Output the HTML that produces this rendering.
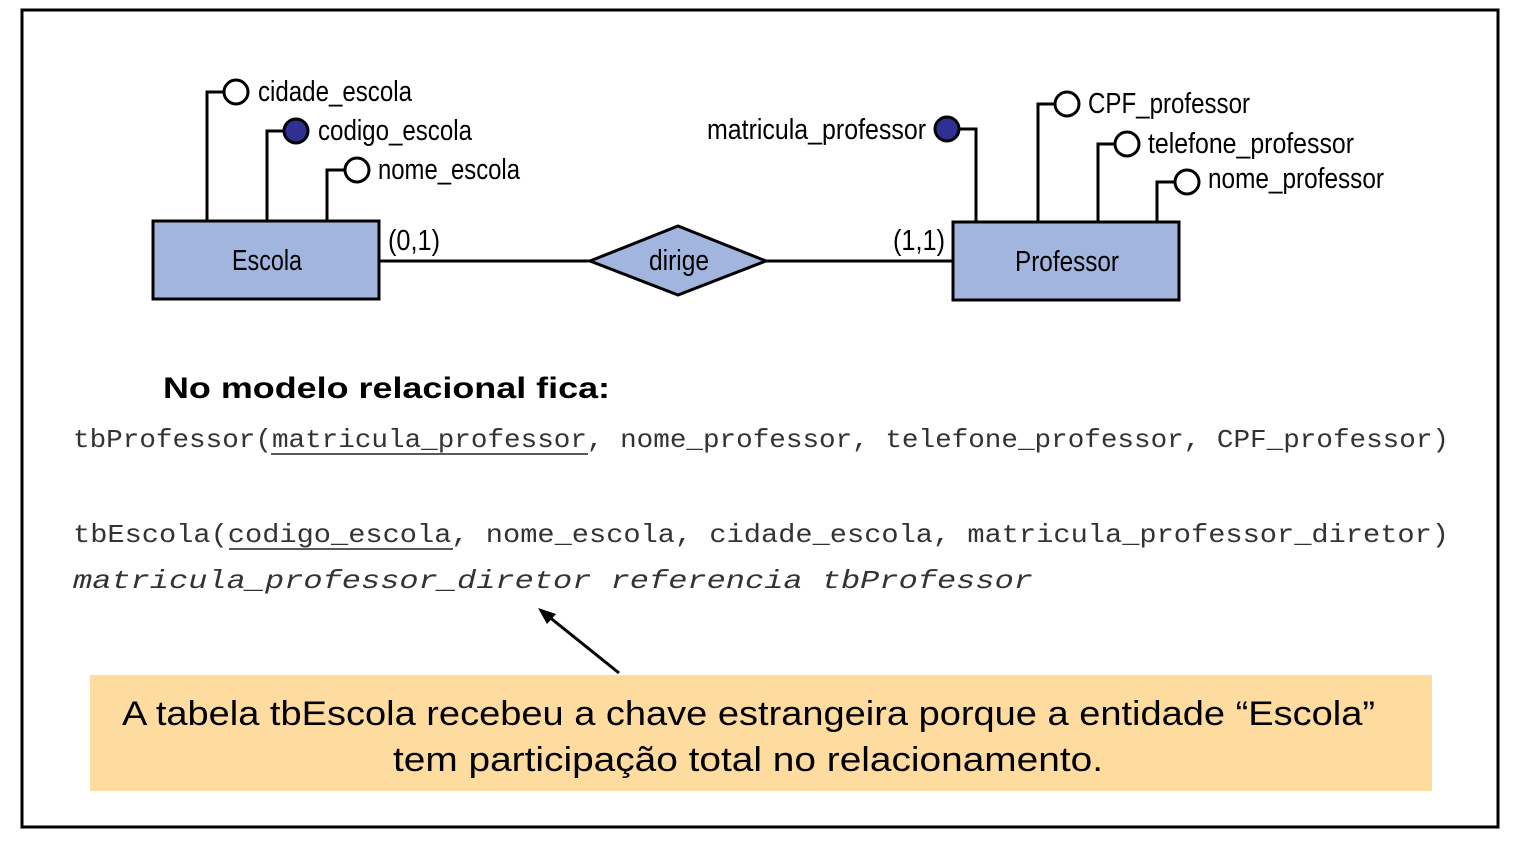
<!DOCTYPE html>
<html><head><meta charset="utf-8"><style>html,body{margin:0;padding:0;background:#fff;}svg{display:block}</style></head>
<body>
<svg width="1515" height="844" viewBox="0 0 1515 844" xmlns="http://www.w3.org/2000/svg">
<rect x="0" y="0" width="1515" height="844" fill="#fff"/>
<rect x="22" y="10" width="1476" height="817" fill="none" stroke="#000" stroke-width="3"/>
<g stroke="#000" stroke-width="3" fill="none">
<polyline points="207,221 207,92 224,92"/>
<polyline points="267,221 267,131 284,131"/>
<polyline points="327,221 327,170 345,170"/>
<polyline points="959,129 976,129 976,222"/>
<polyline points="1038,222 1038,104 1055,104"/>
<polyline points="1098,222 1098,144 1115,144"/>
<polyline points="1157,222 1157,182 1175,182"/>
<line x1="379" y1="261" x2="590" y2="261"/>
<line x1="766" y1="261" x2="953" y2="261"/>
</g>
<g stroke="#000" stroke-width="3">
<circle cx="236" cy="92" r="12" fill="#fff"/>
<circle cx="296" cy="131" r="12" fill="#2e3192"/>
<circle cx="357" cy="170" r="12" fill="#fff"/>
<circle cx="947" cy="129" r="12" fill="#2e3192"/>
<circle cx="1067" cy="104" r="12" fill="#fff"/>
<circle cx="1127" cy="144" r="12" fill="#fff"/>
<circle cx="1187" cy="182" r="12" fill="#fff"/>
<rect x="153" y="221" width="226" height="78" fill="#a2b5de"/>
<rect x="953" y="222" width="226" height="78" fill="#a2b5de"/>
<polygon points="590,261 678,226 766,261 678,295" fill="#a2b5de"/>
</g>
<g font-family="'Liberation Sans Narrow','Liberation Sans',sans-serif" font-size="29" fill="#000">
<text x="258" y="101" textLength="154" lengthAdjust="spacingAndGlyphs">cidade_escola</text>
<text x="318" y="140" textLength="154" lengthAdjust="spacingAndGlyphs">codigo_escola</text>
<text x="378" y="179" textLength="142" lengthAdjust="spacingAndGlyphs">nome_escola</text>
<text x="707" y="139" textLength="219" lengthAdjust="spacingAndGlyphs">matricula_professor</text>
<text x="1088" y="113" textLength="162" lengthAdjust="spacingAndGlyphs">CPF_professor</text>
<text x="1148" y="153" textLength="206" lengthAdjust="spacingAndGlyphs">telefone_professor</text>
<text x="1208" y="188" textLength="176" lengthAdjust="spacingAndGlyphs">nome_professor</text>
<text x="232" y="270" textLength="70" lengthAdjust="spacingAndGlyphs">Escola</text>
<text x="1015" y="271" textLength="104" lengthAdjust="spacingAndGlyphs">Professor</text>
<text x="649" y="270" textLength="60" lengthAdjust="spacingAndGlyphs">dirige</text>
<text x="388" y="250" textLength="52" lengthAdjust="spacingAndGlyphs">(0,1)</text>
<text x="893" y="250" textLength="52" lengthAdjust="spacingAndGlyphs">(1,1)</text>
</g>
<text x="163" y="398" font-family="'Liberation Sans',sans-serif" font-weight="bold" font-size="30" textLength="447" lengthAdjust="spacingAndGlyphs">No modelo relacional  fica:</text>
<g font-family="'Liberation Mono',monospace" font-size="26" fill="#333">
<text x="73" y="447" textLength="1376" lengthAdjust="spacingAndGlyphs">tbProfessor(matricula_professor, nome_professor, telefone_professor, CPF_professor)</text>
<text x="73" y="542" textLength="1376" lengthAdjust="spacingAndGlyphs">tbEscola(codigo_escola, nome_escola, cidade_escola, matricula_professor_diretor)</text>
<text x="73" y="588" font-style="italic" textLength="960" lengthAdjust="spacingAndGlyphs">matricula_professor_diretor referencia tbProfessor</text>
</g>
<g stroke="#222" stroke-width="1.5">
<line x1="271" y1="454" x2="588" y2="454"/>
<line x1="229" y1="549" x2="453" y2="549"/>
</g>
<line x1="619" y1="673" x2="548" y2="616" stroke="#000" stroke-width="3"/>
<polygon points="538,608 556,614 547,624" fill="#000"/>
<rect x="90" y="675" width="1342" height="116" fill="#fedc9f"/>
<g font-family="'Liberation Sans',sans-serif" font-size="34" fill="#000">
<text x="122" y="725" textLength="1253" lengthAdjust="spacingAndGlyphs">A tabela tbEscola recebeu a chave estrangeira porque a entidade “Escola”</text>
<text x="393" y="771" textLength="710" lengthAdjust="spacingAndGlyphs">tem participação total no relacionamento.</text>
</g>
</svg>
</body></html>
